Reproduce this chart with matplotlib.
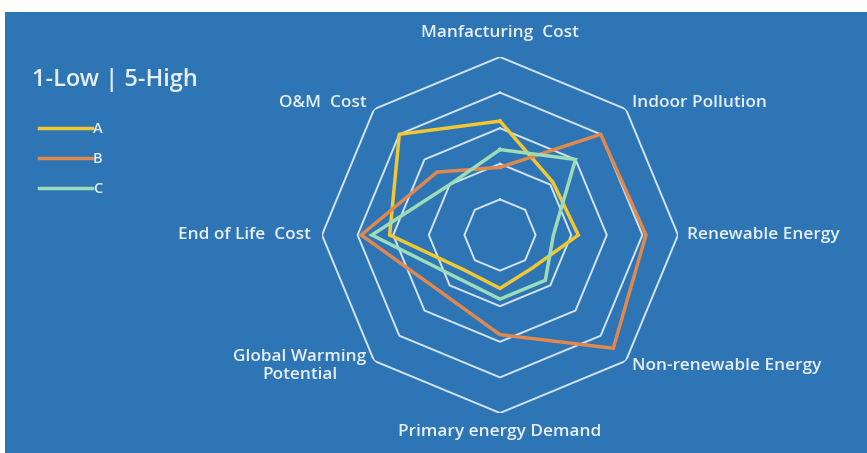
import numpy as np
import matplotlib
matplotlib.use("Agg")
import matplotlib.pyplot as plt
from matplotlib.patches import Rectangle

# ---- data ----
categories = ["Manfacturing  Cost", "Indoor Pollution", "Renewable Energy",
              "Non-renewable Energy", "Primary energy Demand",
              "Global Warming\nPotential", "End of Life  Cost", "O&M  Cost"]
series_names = ["A", "B", "C"]
values_A = [3.2, 2.1, 2.2, 1.3, 1.5, 1.4, 3.1, 4.0]
values_B = [1.9, 4.0, 4.1, 4.5, 2.8, 2.3, 3.9, 2.5]
values_C = [2.4, 3.0, 1.5, 1.8, 1.8, 1.7, 3.6, 2.0]
ring_levels = [1, 2, 3, 4, 5]
scale_title = "1-Low | 5-High"

# ---- style ----
W, H, DPI = 867, 453, 100
BG = "#2E75B6"
GRID = "#D3E3F4"
TXT = "#E6EFF9"
colors = ["#F2C830", "#E0884E", "#9CDDB8"]
FONT = "Open Sans"

fig = plt.figure(figsize=(W / DPI, H / DPI), dpi=DPI, facecolor="white")
fig.patches.append(Rectangle((5 / W, 0), 1, (H - 12) / H, transform=fig.transFigure,
                             facecolor=BG, edgecolor="none", zorder=-10))

cx, cy, R = 500, 235, 178
ax = fig.add_axes([(cx - R) / W, (H - cy - R) / H, 2 * R / W, 2 * R / H],
                  projection="polar")
ax.set_facecolor("none")
ax.set_theta_offset(np.pi / 2)
ax.set_theta_direction(-1)
ax.set_ylim(0, 5)
ax.grid(False)
ax.spines["polar"].set_visible(False)
ax.set_xticks([])
ax.set_yticks([])

n = len(categories)
angles = np.linspace(0, 2 * np.pi, n, endpoint=False)
ang_closed = np.concatenate([angles, angles[:1]])

for lvl in ring_levels:
    ax.plot(ang_closed, [lvl] * (n + 1), color=GRID, lw=1.4, zorder=1)

for name, vals, col in zip(series_names, [values_A, values_B, values_C], colors):
    v = list(vals) + [vals[0]]
    ax.plot(ang_closed, v, color=col, lw=2.5, label=name, zorder=3,
            solid_joinstyle="miter")

# category labels
offsets = [((0, 24), "center", "center"),
           ((6, 6), "left", "center"),
           ((9, 0), "left", "center"),
           ((6, -5), "left", "center"),
           ((0, -19), "center", "center"),
           ((-8, -5), "right", "center"),
           ((-11, 0), "right", "center"),
           ((-8, 6), "right", "center")]
for a, lab, (off, ha, va) in zip(angles, categories, offsets):
    ax.annotate(lab, xy=(a, ring_levels[-1]), xytext=off, textcoords="offset pixels",
                ha=ha, va=va, multialignment="center", color=TXT,
                fontsize=12.4, family=FONT, fontweight="semibold",
                annotation_clip=False)

fig.text(32 / W, 1 - 80 / H, scale_title, color=TXT, fontsize=17, family=FONT,
         fontweight="semibold", ha="left", va="center")

leg = fig.legend(loc="upper left", bbox_to_anchor=(26 / W, 1 - 109 / H),
                 frameon=False, handlelength=3.6, handletextpad=0.1,
                 labelspacing=1.1,
                 prop={"family": FONT, "size": 10.5, "weight": "semibold"},
                 labelcolor=TXT)

fig.savefig("out.png", dpi=DPI, facecolor="white")
